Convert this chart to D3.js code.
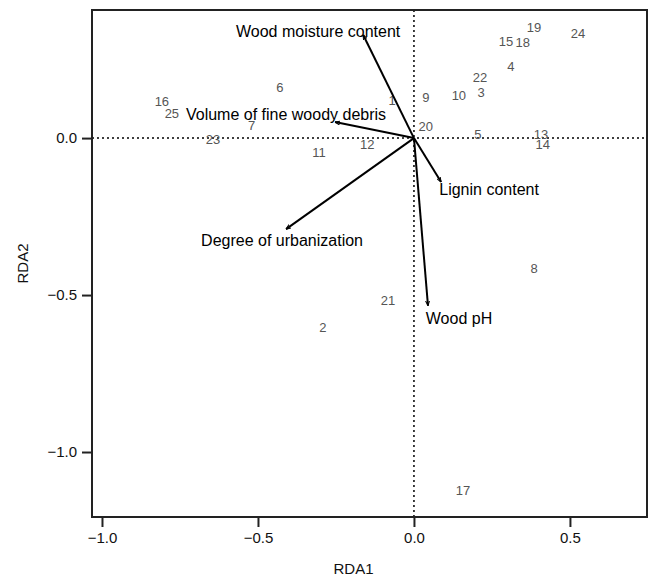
<!DOCTYPE html>
<html>
<head>
<meta charset="utf-8">
<script src="https://cdn.jsdelivr.net/npm/d3@7"></script>
<style>
  body { margin: 0; background: #fff; }
  text { font-family: "Liberation Sans", Arial, sans-serif; }
</style>
</head>
<body>
<script>
// site scores (RDA1, RDA2)
var siteIds = ["1","2","3","4","5","6","7","8","9","10","11","12","13","14","15","16","17","18","19","20","21","22","23","24","25"];
var siteX = [-0.07,-0.292,0.215,0.311,0.205,-0.43,-0.52,0.385,0.038,0.144,-0.304,-0.15,0.407,0.413,0.295,-0.808,0.157,0.349,0.385,0.038,-0.083,0.212,-0.644,0.526,-0.776];
var siteY = [0.12,-0.604,0.144,0.227,0.01,0.16,0.04,-0.415,0.128,0.137,-0.045,-0.019,0.013,-0.019,0.307,0.118,-1.121,0.303,0.351,0.038,-0.518,0.192,-0.003,0.332,0.077];

// explanatory variable arrows
var varNames = ["Wood moisture content","Volume of fine woody debris","Degree of urbanization","Lignin content","Wood pH"];
var varX = [-0.163,-0.253,-0.41,0.087,0.045];
var varY = [0.329,0.051,-0.29,-0.14,-0.534];

var xTicks = [-1.0,-0.5,0.0,0.5];
var yTicks = [0.0,-0.5,-1.0];

// where each arrow label sits relative to its tip (pixels)
var labelNudge = [[-45,-3],[-49,-8],[-4,11],[48,7],[31,13]];

var width = 649, height = 577;
var margin = {top: 10, right: 2, bottom: 60, left: 92};

var x = d3.scaleLinear().domain([-1.032, 0.747]).range([margin.left, width - margin.right]);
var y = d3.scaleLinear().domain([0.408, -1.207]).range([margin.top, height - margin.bottom]);

var svg = d3.select("body").append("svg")
    .attr("width", width)
    .attr("height", height);

svg.append("defs").append("marker")
    .attr("id", "head")
    .attr("viewBox", "0 0 10 10")
    .attr("refX", 10).attr("refY", 5)
    .attr("markerWidth", 5).attr("markerHeight", 5)
    .attr("markerUnits", "userSpaceOnUse")
    .attr("orient", "auto")
    .append("path")
    .attr("d", "M0,1 L10,5 L0,9")
    .attr("fill", "none")
    .attr("stroke", "#000")
    .attr("stroke-width", 2);

// zero reference lines
svg.append("line")
    .attr("x1", x.range()[0]).attr("x2", x.range()[1])
    .attr("y1", y(0)).attr("y2", y(0))
    .attr("stroke", "#000").attr("stroke-width", 1.5)
    .attr("stroke-dasharray", "2,3");
svg.append("line")
    .attr("x1", x(0)).attr("x2", x(0))
    .attr("y1", y.range()[0]).attr("y2", y.range()[1])
    .attr("stroke", "#000").attr("stroke-width", 1.5)
    .attr("stroke-dasharray", "2,3");

// site labels
svg.append("g").selectAll("text")
    .data(siteIds)
    .enter().append("text")
    .attr("x", function(d, i) { return x(siteX[i]); })
    .attr("y", function(d, i) { return y(siteY[i]); })
    .attr("text-anchor", "middle")
    .attr("dominant-baseline", "central")
    .attr("font-size", 13)
    .attr("fill", "#555")
    .text(function(d) { return d; });

// arrows
var arrows = svg.append("g");
arrows.selectAll("line")
    .data(varNames)
    .enter().append("line")
    .attr("x1", x(0)).attr("y1", y(0))
    .attr("x2", function(d, i) { return x(varX[i]); })
    .attr("y2", function(d, i) { return y(varY[i]); })
    .attr("stroke", "#000")
    .attr("stroke-width", 2)
    .attr("marker-end", "url(#head)");

arrows.selectAll("text")
    .data(varNames)
    .enter().append("text")
    .attr("x", function(d, i) { return x(varX[i]) + labelNudge[i][0]; })
    .attr("y", function(d, i) { return y(varY[i]) + labelNudge[i][1]; })
    .attr("text-anchor", "middle")
    .attr("dominant-baseline", "central")
    .attr("font-size", 16)
    .attr("fill", "#000")
    .text(function(d) { return d; });

// axes
var xAxis = svg.append("g")
    .attr("transform", "translate(0," + y.range()[1] + ")")
    .call(d3.axisBottom(x).tickValues(xTicks).tickFormat(d3.format(".1f")).tickSize(10).tickPadding(5));
var yAxis = svg.append("g")
    .attr("transform", "translate(" + x.range()[0] + ",0)")
    .call(d3.axisLeft(y).tickValues(yTicks).tickFormat(d3.format(".1f")).tickSize(10).tickPadding(5));
[xAxis, yAxis].forEach(function(a) {
    a.select(".domain").remove();
    a.selectAll("line").attr("stroke", "#222").attr("stroke-width", 2);
    a.selectAll("text").attr("font-size", 15).attr("fill", "#111")
        .attr("font-family", "'Liberation Sans', Arial, sans-serif");
});

// box
svg.append("rect")
    .attr("x", x.range()[0]).attr("y", y.range()[0])
    .attr("width", x.range()[1] - x.range()[0])
    .attr("height", y.range()[1] - y.range()[0])
    .attr("fill", "none")
    .attr("stroke", "#222")
    .attr("stroke-width", 2);

svg.append("text")
    .attr("x", (x.range()[0] + x.range()[1]) / 2 - 16)
    .attr("y", 574)
    .attr("text-anchor", "middle")
    .attr("font-size", 15)
    .attr("fill", "#111")
    .text("RDA1");
svg.append("text")
    .attr("transform", "translate(28," + (y.range()[0] + y.range()[1]) / 2 + ") rotate(-90)")
    .attr("text-anchor", "middle")
    .attr("font-size", 15)
    .attr("fill", "#111")
    .text("RDA2");
</script>
</body>
</html>
